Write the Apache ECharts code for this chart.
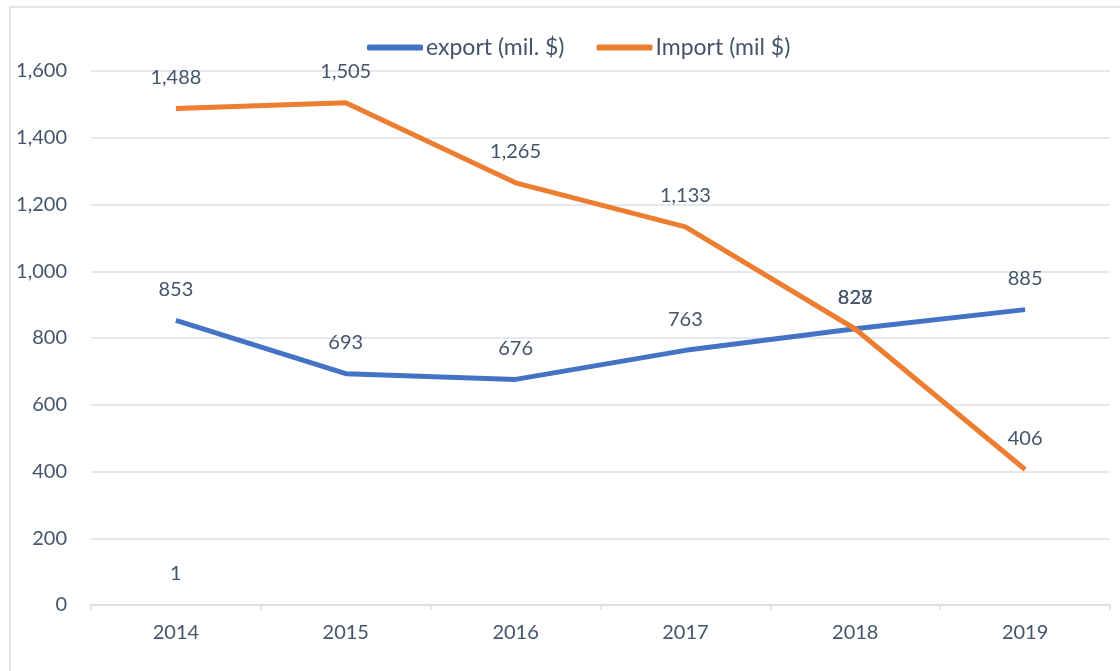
<!DOCTYPE html>
<html>
<head>
<meta charset="utf-8">
<script src="https://cdn.jsdelivr.net/npm/echarts@6/dist/echarts.min.js"></script>
<style>
  html, body { margin: 0; padding: 0; background: #fff; }
  #chart { width: 1120px; height: 671px; }
</style>
</head>
<body>
<div id="chart"></div>
<script>
var years = ['2014', '2015', '2016', '2017', '2018', '2019']
var exportVals = [853, 693, 676, 763, 828, 885]
var importVals = [1488, 1505, 1265, 1133, 827, 406]
// stray point shown in the original as a lone label at 2014
var extraVals = [1, null, null, null, null, null]
var yTicks = [0, 200, 400, 600, 800, 1000, 1200, 1400, 1600]

var textColor = '#44546A'
var font = 'Lato, "Noto Sans", sans-serif'
var fs = 20

var myChart = echarts.init(document.getElementById('chart'))

function lineLabel() {
  return {
    show: true,
    position: 'top',
    distance: 21,
    color: textColor,
    fontSize: fs,
    fontFamily: font,
    formatter: function (p) {
      return p.value.toLocaleString('en-US')
    }
  }
}

var option = {
  backgroundColor: '#fff',
  animation: false,
  graphic: [{
    type: 'rect',
    shape: { x: 10, y: 7, width: 1130, height: 700 },
    style: { fill: 'none', stroke: '#d9dde3', lineWidth: 1.5 },
    silent: true
  }],
  legend: {
    top: 31,
    left: 362,
    itemWidth: 56,
    itemHeight: 6,
    itemGap: 32,
    icon: 'roundRect',
    textStyle: { color: textColor, fontSize: 23, fontFamily: font, padding: [0, 0, 0, -2] },
    data: [
      { name: 'export (mil. $)', itemStyle: { color: '#4472C4', opacity: 1 } },
      { name: 'Import (mil $)', itemStyle: { color: '#ED7D31', opacity: 1 } }
    ]
  },
  grid: { left: 91, right: 10, top: 71, bottom: 66 },
  xAxis: {
    type: 'category',
    data: years,
    boundaryGap: true,
    axisLine: { lineStyle: { color: '#d9dde3', width: 1.5 } },
    axisTick: { show: true, length: 5, lineStyle: { color: '#d9dde3', width: 1.5 } },
    axisLabel: { color: textColor, fontSize: fs, fontFamily: font, margin: 18 }
  },
  yAxis: {
    type: 'value',
    min: yTicks[0],
    max: yTicks[yTicks.length - 1],
    interval: 200,
    axisLine: { show: false },
    axisTick: { show: false },
    splitLine: { lineStyle: { color: '#dde2e8', width: 1.5 } },
    axisLabel: {
      color: textColor, fontSize: fs, fontFamily: font, margin: 24,
      formatter: function (v) { return v.toLocaleString('en-US') }
    }
  },
  series: [
    {
      name: 'export (mil. $)',
      type: 'line',
      data: exportVals,
      symbol: 'circle',
      symbolSize: 0,
      showSymbol: true,
      color: '#4472C4',
      lineStyle: { width: 5, color: '#4472C4' },
      label: { show: false },
      z: 3
    },
    {
      name: 'Import (mil $)',
      type: 'line',
      data: importVals,
      symbol: 'circle',
      symbolSize: 0,
      showSymbol: true,
      color: '#ED7D31',
      lineStyle: { width: 5, color: '#ED7D31' },
      label: lineLabel(),
      z: 4
    },
    {
      // export labels drawn above the import ones, as in the original
      name: 'export labels',
      type: 'line',
      data: exportVals,
      symbol: 'circle',
      symbolSize: 0,
      showSymbol: true,
      lineStyle: { width: 0, opacity: 0 },
      label: lineLabel(),
      zlevel: 1,
      z: 5
    },
    {
      name: 'extra',
      type: 'line',
      data: extraVals,
      symbol: 'circle',
      symbolSize: 0,
      showSymbol: true,
      lineStyle: { width: 0, opacity: 0 },
      label: lineLabel(),
      z: 2
    }
  ]
}
myChart.setOption(option)
</script>
</body>
</html>
